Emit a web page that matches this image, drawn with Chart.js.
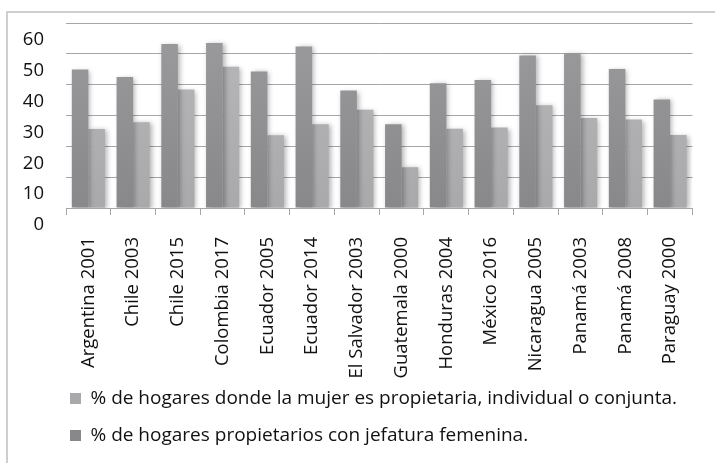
<!DOCTYPE html>
<html>
<head>
<meta charset="utf-8">
<script src="https://cdn.jsdelivr.net/npm/chart.js@4"></script>
<style>
  html, body { margin: 0; padding: 0; background: #fff; overflow: hidden; }
  #frame { position: absolute; left: 6px; top: 11px; width: 800px; height: 600px;
           border-left: 2px solid #cfcfcf; border-top: 2px solid #cfcfcf; }
  #wrap { position: absolute; left: 0; top: 0; width: 715px; height: 463px; }
</style>
</head>
<body>
<div id="frame"></div>
<div id="wrap"><canvas id="myChart"></canvas></div>
<script>
const categories = ['Argentina 2001', 'Chile 2003', 'Chile 2015', 'Colombia 2017', 'Ecuador 2005', 'Ecuador 2014',
    'El Salvador 2003', 'Guatemala 2000', 'Honduras 2004', 'México 2016', 'Nicaragua 2005', 'Panamá 2003',
    'Panamá 2008', 'Paraguay 2000'];
const jefaturaFemenina = [44.9, 42.5, 53.2, 53.5, 44.3, 52.4, 38.1, 27.2, 40.5, 41.5, 49.5, 50.3, 45.1, 35.2];
const mujerPropietaria = [25.6, 27.8, 38.4, 45.8, 23.6, 27.2, 31.9, 13.2, 25.7, 26.1, 33.3, 29.2, 28.7, 23.7];
const yTicks = [0, 10, 20, 30, 40, 50, 60];

const ctx = document.getElementById('myChart').getContext('2d');

// vertical gradient like the old office-style bars
function barFill(top, bottom) {
    return function(c) {
        const area = c.chart.chartArea;
        if (!area) return bottom;
        const g = c.chart.ctx.createLinearGradient(0, area.top, 0, area.bottom);
        g.addColorStop(0, top);
        g.addColorStop(1, bottom);
        return g;
    };
}

const barShadow = {
    id: 'barShadow',
    beforeDatasetsDraw(chart) {
        const c = chart.ctx;
        c.save();
        c.shadowColor = 'rgba(0,0,0,0.3)';
        c.shadowBlur = 5;
        c.shadowOffsetX = 2;
        c.shadowOffsetY = 1;
    },
    afterDatasetsDraw(chart) {
        chart.ctx.restore();
    }
};

// push the legend rows in to line up under the plot
const legendShift = {
    id: 'legendShift',
    afterLayout(chart) {
        chart.legend.left = 52;
    }
};

const data = {
    labels: categories,
    datasets: [
        {
            label: '% de hogares propietarios con jefatura femenina.',
            data: jefaturaFemenina,
            backgroundColor: barFill('#9b9b9e', '#88888b'),
            categoryPercentage: 0.74,
            barPercentage: 1.0
        },
        {
            label: '% de hogares donde la mujer es propietaria, individual o conjunta.',
            data: mujerPropietaria,
            backgroundColor: barFill('#b8b8ba', '#a9a9ac'),
            categoryPercentage: 0.74,
            barPercentage: 1.0
        }
    ]
};

const config = {
    type: 'bar',
    data: data,
    plugins: [barShadow, legendShift],
    options: {
        responsive: true,
        maintainAspectRatio: false,
        animation: false,
        layout: {
            padding: { left: 7, top: 23, right: 19, bottom: 8 }
        },
        scales: {
            x: {
                afterFit: s => {
                    s.height = 163;
                    // long labels run a bit past the axis box; don't clip them
                    s._computeLabelArea = () => undefined;
                },
                border: { display: true, color: '#a6a6a6', width: 1 },
                grid: {
                    display: true,
                    drawOnChartArea: false,
                    drawTicks: true,
                    tickLength: 7,
                    color: '#a6a6a6',
                    offset: true
                },
                ticks: {
                    autoSkip: false,
                    minRotation: 90,
                    maxRotation: 90,
                    padding: 22,
                    color: '#111',
                    font: { family: 'Open Sans', size: 18.5 }
                }
            },
            y: {
                min: 0,
                max: 60,
                afterFit: s => {
                    s.width = 59;
                    s.paddingTop = 0;
                    s.paddingBottom = 0;
                },
                afterBuildTicks: s => { s.ticks = yTicks.map(v => ({ value: v })); },
                border: { display: false },
                grid: {
                    color: '#a6a6a6',
                    lineWidth: 1,
                    drawTicks: false
                },
                ticks: {
                    padding: 22,
                    labelOffset: 17,
                    color: '#111',
                    font: { family: 'Open Sans', size: 18.5 }
                }
            }
        },
        plugins: {
            title: { display: false },
            tooltip: { enabled: false },
            legend: {
                position: 'bottom',
                align: 'start',
                reverse: true,
                labels: {
                    boxWidth: 11,
                    boxHeight: 11,
                    padding: 18,
                    color: '#111',
                    font: { family: 'Open Sans', size: 19 }
                }
            }
        }
    }
};

const myChart = new Chart(ctx, config);
</script>
</body>
</html>
